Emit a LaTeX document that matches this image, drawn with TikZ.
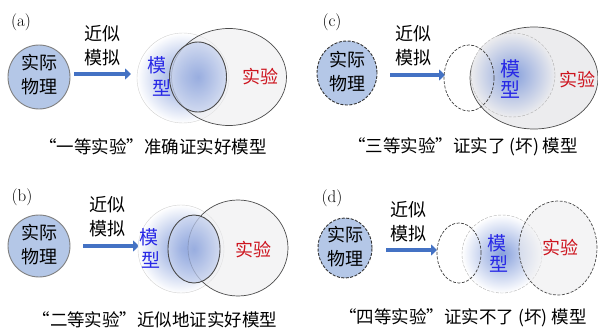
\documentclass[tikz,border=0pt]{standalone}
\usepackage{fontspec}
\newfontfamily\cjk{Noto Sans CJK SC}
\usetikzlibrary{shapes.geometric,arrows.meta}
\definecolor{physfill}{RGB}{180,199,231}
\definecolor{arrblue}{RGB}{68,114,196}
\definecolor{mblue}{RGB}{135,160,220}
\definecolor{mtext}{RGB}{40,40,230}
\definecolor{etext}{RGB}{205,20,30}
\definecolor{efill}{RGB}{236,236,238}
\definecolor{edge}{RGB}{75,75,75}
\tikzset{
  ell/.style={ellipse, inner sep=0pt},
  phys/.style={ell, fill=physfill, draw=gray, line width=0.9pt},
  physd/.style={ell, fill=physfill, draw=black!80, line width=0.9pt, dash pattern=on 3pt off 1.5pt},
  flow/.style={arrblue, line width=4.5pt, -{Triangle[length=6pt,width=11pt]}},
  model/.style={ell, inner color=mblue, outer color=white},
  expt/.style={ell, fill=efill, fill opacity=0.55, draw=edge, line width=0.7pt},
  overlap/.style={ell, inner color=mblue, outer color=mblue!45!white, draw=edge, line width=0.9pt, fill opacity=0.75},
  ghost/.style={ell, draw=black!75, line width=0.7pt, dash pattern=on 3pt off 1.5pt},
  txt/.style={font=\cjk\fontsize{18}{24}\selectfont, align=center, inner sep=0pt},
  mlab/.style={font=\cjk\fontsize{19}{24}\selectfont, text=mtext, inner sep=0pt},
  elab/.style={font=\cjk\fontsize{18}{24}\selectfont, text=etext, inner sep=0pt},
  captxt/.style={font=\cjk\fontsize{17.5}{20}\selectfont, inner sep=0pt},
  plab/.style={font=\fontsize{17}{20}\selectfont, inner sep=0pt},
}
\begin{document}
\begin{tikzpicture}[x=1pt,y=-1pt]
\useasboundingbox[fill=white] (0,0) rectangle (598,329);
% ---------- (a) ----------
\node[plab] (a-lab) at (21,22) {(a)};
\node[phys, minimum width=62pt, minimum height=64pt] (a-phys) at (39,77) {};
\node[txt] (a-pt) at (39,75) {实际\\物理};
\node[txt] (a-ap) at (102,46) {近似\\模拟};
\coordinate (a-s) at (74,74);
\coordinate (a-e) at (131,74);
\draw[flow] (a-s) -- (a-e);
\node[model, draw=gray!35, minimum width=92pt, minimum height=90pt] (a-model) at (183,78) {};
\node[expt, minimum width=115pt, minimum height=97pt] (a-exp) at (229,77) {};
\node[overlap, minimum width=57pt, minimum height=70pt] (a-ov) at (198,77) {};
\node[mlab] (a-m1) at (157,65) {模};
\node[mlab] (a-m2) at (162,88) {型};
\node[elab] (a-el) at (260,77) {实验};
\node[captxt] (a-cap) at (153,147) {“一等实验”准确证实好模型};
% ---------- (b) ----------
\node[plab] (b-lab) at (22,197) {(b)};
\node[phys, minimum width=62pt, minimum height=62pt] (b-phys) at (39,246) {};
\node[txt] (b-pt) at (39,245) {实际\\物理};
\node[txt] (b-ap) at (107,217) {近似\\模拟};
\coordinate (b-s) at (83,246);
\coordinate (b-e) at (139,246);
\draw[flow] (b-s) -- (b-e);
\node[model, draw=gray!35, minimum width=86pt, minimum height=88pt] (b-model) at (181,249) {};
\node[expt, minimum width=100pt, minimum height=96pt] (b-exp) at (238,248) {};
\node[overlap, minimum width=52pt, minimum height=68pt] (b-ov) at (194,249) {};
\node[mlab] (b-m1) at (149,237) {模};
\node[mlab] (b-m2) at (151,260) {型};
\node[elab] (b-el) at (253,250) {实验};
\node[captxt] (b-cap) at (155,320) {“二等实验”近似地证实好模型};
% ---------- (c) ----------
\node[plab] (c-lab) at (332,22) {(c)};
\node[physd, minimum width=60pt, minimum height=64pt] (c-phys) at (347,73) {};
\node[txt] (c-pt) at (347,72) {实际\\物理};
\node[txt] (c-ap) at (413,46) {近似\\模拟};
\coordinate (c-s) at (390,75);
\coordinate (c-e) at (445,75);
\draw[flow] (c-s) -- (c-e);
\node[expt, fill opacity=1, minimum width=128pt, minimum height=102pt] (c-exp) at (534,78) {};
\node[model, outer color=efill, draw=gray!60, dash pattern=on 3pt off 1.5pt, minimum width=84pt, minimum height=84pt] (c-model) at (513,75) {};
\node[ghost, minimum width=50pt, minimum height=66pt] (c-gh) at (469,78) {};
\node[mlab, font=\cjk\fontsize{20}{24}\selectfont] (c-m1) at (510,69) {模};
\node[mlab, font=\cjk\fontsize{20}{24}\selectfont] (c-m2) at (510,90) {型};
\node[elab] (c-el) at (577,80) {实验};
\node[captxt] (c-cap) at (463,147) {“三等实验”证实了 (坏) 模型};
% ---------- (d) ----------
\node[plab] (d-lab) at (332,198) {(d)};
\node[physd, minimum width=54pt, minimum height=60pt] (d-phys) at (345,248) {};
\node[txt] (d-pt) at (345,247) {实际\\物理};
\node[txt] (d-ap) at (408,222) {近似\\模拟};
\coordinate (d-s) at (386,250);
\coordinate (d-e) at (437,250);
\draw[flow] (d-s) -- (d-e);
\node[model, draw=gray!60, dash pattern=on 3pt off 1.5pt, minimum width=80pt, minimum height=78pt] (d-model) at (502,254) {};
\node[ghost, minimum width=44pt, minimum height=60pt] (d-gh) at (459,253) {};
\node[expt, dash pattern=on 3pt off 1.5pt, minimum width=78pt, minimum height=94pt] (d-exp) at (558,248) {};
\node[mlab] (d-m1) at (497,243) {模};
\node[mlab] (d-m2) at (499,264) {型};
\node[elab] (d-el) at (560,248) {实验};
\node[captxt] (d-cap) at (463,318) {“四等实验”证实不了 (坏) 模型};
\end{tikzpicture}
\end{document}
